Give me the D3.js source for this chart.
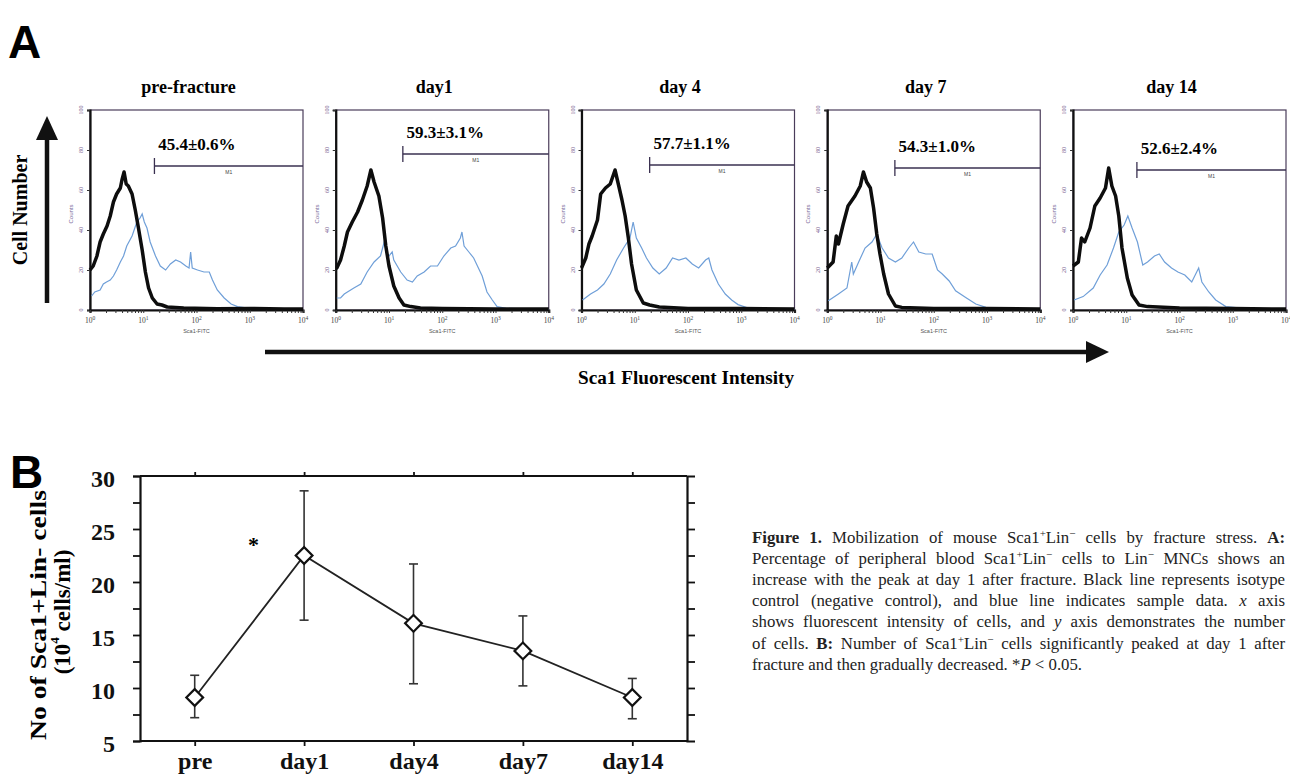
<!DOCTYPE html>
<html><head><meta charset="utf-8">
<script src="https://cdn.jsdelivr.net/npm/d3@7"></script>
<style>body{margin:0;background:#fff;} svg{display:block;}</style>
</head><body>
<svg id="c" width="1290" height="778"></svg>
<script>
// ---------------- Panel A data ----------------
const panelTitles = ["pre-fracture", "day1", "day 4", "day 7", "day 14"];
const percentLabels = ["45.4±0.6%", "59.3±3.1%", "57.7±1.1%", "54.3±1.0%", "52.6±2.4%"];
const gateStart = [1.21, 1.26, 1.28, 1.27, 1.2];   // log10 intensity
const gateLevel = [72, 78, 72.5, 71, 70];          // counts
const countTicks = [0, 20, 40, 60, 80, 100];
const decadeTicks = [0, 1, 2, 3, 4];

// [log10 intensity, counts]
const preControl = [[0,20],[0.06,22],[0.13,27],[0.19,34],[0.25,38],[0.32,42],[0.38,47],[0.44,54],[0.5,58],[0.57,61],[0.6,65],[0.64,69],[0.68,63],[0.72,62],[0.79,58],[0.85,50],[0.91,41],[0.98,30],[1.04,19],[1.1,11],[1.17,6],[1.26,3],[1.35,2.5],[1.45,1.5],[1.76,1],[2.39,0.6],[3.02,0.8],[3.65,0.5],[4,0.5]];
const preSample = [[0.03,7],[0.09,9],[0.19,10],[0.25,13],[0.31,14],[0.38,15],[0.44,17],[0.5,20],[0.57,24],[0.63,27],[0.69,32],[0.79,37],[0.88,44],[0.94,46],[0.98,48],[1.02,44],[1.07,41],[1.13,34],[1.23,27],[1.32,22],[1.42,20],[1.51,23],[1.61,25],[1.7,24],[1.8,22],[1.86,21],[1.89,29],[1.92,21],[2.02,20],[2.14,19],[2.24,19],[2.3,15],[2.39,10],[2.52,6],[2.65,3],[2.77,1.7],[2.96,1],[3.34,0.5],[4,0.3]];
const day1Control = [[0,21],[0.02,21],[0.09,25],[0.16,32],[0.22,39],[0.31,44],[0.41,49],[0.5,55],[0.59,62],[0.66,70],[0.72,64],[0.81,57],[0.88,46],[0.94,32],[1.0,22],[1.09,12],[1.19,6],[1.28,2.5],[1.41,1.7],[1.59,1],[2,0.8],[3,0.5],[4,0.5]];
const day1Sample = [[0.02,6],[0.09,6],[0.16,8],[0.34,11],[0.47,13],[0.59,19],[0.72,24],[0.84,27],[0.9,33],[0.93,36],[0.97,26],[1.06,29],[1.09,25],[1.22,19],[1.34,15],[1.44,14],[1.53,17],[1.66,19],[1.78,22],[1.91,22],[2.03,27],[2.16,31],[2.25,32],[2.34,36],[2.37,39],[2.41,32],[2.5,29],[2.59,26],[2.75,17],[2.84,9],[2.94,5],[3.03,1.7],[3.2,0.8],[4,0.3]];
const day4Control = [[0,21],[0.08,26],[0.14,33],[0.2,37],[0.3,45],[0.36,58],[0.45,61],[0.54,63],[0.63,70],[0.7,62],[0.76,55],[0.82,47],[0.88,36],[0.94,23],[1.03,10],[1.16,3.5],[1.28,2.5],[1.46,1.5],[2,0.8],[3,0.8],[4,0.5]];
const day4Sample = [[0.02,5],[0.17,8],[0.3,10],[0.42,13],[0.54,18],[0.66,25],[0.79,31],[0.91,36],[0.97,44],[1.03,36],[1.13,31],[1.22,26],[1.34,21],[1.46,18],[1.59,21],[1.71,26],[1.83,25],[1.96,26],[2.08,23],[2.2,21],[2.33,25],[2.39,26],[2.45,20],[2.57,13],[2.7,8],[2.82,5],[2.94,2.7],[3.13,1],[4,0.3]];
const day7Control = [[0,21],[0.11,24],[0.17,37],[0.21,33],[0.3,43],[0.39,52],[0.52,57],[0.62,62],[0.68,69],[0.74,64],[0.81,61],[0.87,51],[0.93,38],[0.99,28],[1.06,18],[1.15,8],[1.28,2],[1.4,1.3],[2,0.8],[3,0.7],[4,0.5]];
const day7Sample = [[0.02,4.6],[0.21,8],[0.37,11],[0.46,24],[0.49,18],[0.59,24],[0.71,31],[0.84,34],[0.93,38],[1.03,31],[1.15,26],[1.28,24],[1.4,26],[1.53,31],[1.62,34],[1.72,29],[1.85,28],[1.97,28],[2.07,20],[2.16,18],[2.29,14.5],[2.41,9.6],[2.6,6.3],[2.79,3],[2.98,1.3],[3.3,0.5],[4,0.3]];
const day14Control = [[0,22],[0.1,24],[0.16,36],[0.22,34],[0.32,41],[0.41,52],[0.51,56],[0.61,61],[0.67,71],[0.73,62],[0.8,57],[0.86,47],[0.92,31],[1.02,16],[1.11,7.5],[1.24,2.5],[1.4,1.7],[2,1],[3,0.7],[4,0.5]];
const day14Sample = [[0.02,5],[0.19,6.7],[0.38,11],[0.51,17.5],[0.64,22.5],[0.76,31],[0.86,39],[0.96,42.5],[1.03,47],[1.11,41],[1.21,34],[1.31,22.5],[1.4,24],[1.53,27],[1.62,28],[1.72,24],[1.85,21],[1.97,19],[2.1,17.5],[2.23,14],[2.36,21],[2.42,14],[2.55,9],[2.68,5],[2.87,1.7],[3.2,0.8],[4,0.3]];
const controls = [preControl, day1Control, day4Control, day7Control, day14Control];
const samples = [preSample, day1Sample, day4Sample, day7Sample, day14Sample];

// ---------------- Panel B data ----------------
const bCategories = ["pre", "day1", "day4", "day7", "day14"];
const bMeans = [9.1, 22.5, 16.1, 13.5, 9.1];
const bUpper = [11.2, 28.6, 21.7, 16.8, 10.9];
const bLower = [7.2, 16.4, 10.4, 10.2, 7.1];
const bYTicks = [5, 7.5, 10, 12.5, 15, 17.5, 20, 22.5, 25, 27.5, 30];
const bRightTicks = [7.5, 10, 12.5, 15, 17.5, 20, 22.5, 25, 27.5];

// ---------------- Caption ----------------
const captionLines = [
  [["Figure 1.","b"],[" Mobilization of mouse Sca1",""],["+","sup"],["Lin",""],["−","sup"],[" cells by fracture stress. ",""],["A:","b"]],
  [["Percentage of peripheral blood Sca1",""],["+","sup"],["Lin",""],["−","sup"],[" cells to Lin",""],["−","sup"],[" MNCs shows an",""]],
  [["increase with the peak at day 1 after fracture. Black line represents isotype",""]],
  [["control (negative control), and blue line indicates sample data. ",""],["x","i"],[" axis",""]],
  [["shows fluorescent intensity of cells, and ",""],["y","i"],[" axis demonstrates the number",""]],
  [["of cells. ",""],["B:","b"],[" Number of Sca1",""],["+","sup"],["Lin",""],["−","sup"],[" cells significantly peaked at day 1 after",""]],
  [["fracture and then gradually decreased. *",""],["P","i"],[" < 0.05.",""]]
];

const svg = d3.select("#c");
const SERIF = "'Liberation Serif', 'Times New Roman', serif";
const SANS = "'Liberation Sans', Arial, sans-serif";

// ===== Panel A =====
svg.append("text").attr("x", 8).attr("y", 58).attr("font-family", SANS)
  .attr("font-weight", "bold").attr("font-size", 46).text("A");

svg.append("text").attr("transform", "translate(27,210) rotate(-90)")
  .attr("text-anchor", "middle").attr("font-family", SERIF).attr("font-weight", "bold")
  .attr("font-size", 20).text("Cell Number");
svg.append("line").attr("x1", 47).attr("x2", 47).attr("y1", 303).attr("y2", 136)
  .attr("stroke", "#111").attr("stroke-width", 4.5);
svg.append("path").attr("d", "M47,116 L58,140 L36,140 Z").attr("fill", "#111");

svg.append("line").attr("x1", 265).attr("x2", 1088).attr("y1", 352).attr("y2", 352)
  .attr("stroke", "#111").attr("stroke-width", 4.5);
svg.append("path").attr("d", "M1109,352 L1086,341 L1086,363 Z").attr("fill", "#111");
svg.append("text").attr("x", 686).attr("y", 384).attr("text-anchor", "middle")
  .attr("font-family", SERIF).attr("font-weight", "bold").attr("font-size", 18)
  .attr("textLength", 216).attr("lengthAdjust", "spacingAndGlyphs")
  .text("Sca1 Fluorescent Intensity");

const PW = 213, PH = 200, PTOP = 110;
panelTitles.forEach((title, i) => {
  const left = 90 + i * 245.75;
  const x = d3.scaleLog().domain([1, 1e4]).range([left, left + PW]);
  const y = d3.scaleLinear().domain([0, 100]).range([PTOP + PH, PTOP]);
  const g = svg.append("g");

  g.append("text").attr("x", left + PW / 2 - 8).attr("y", 93).attr("text-anchor", "middle")
    .attr("font-family", SERIF).attr("font-weight", "bold").attr("font-size", 18).text(title);

  g.append("rect").attr("x", left).attr("y", PTOP).attr("width", PW).attr("height", PH)
    .attr("fill", "none").attr("stroke", "#4a3c5a").attr("stroke-width", 1.2);

  const ya = d3.axisLeft(y).tickValues(countTicks).tickSize(3).tickFormat("");
  const yg = g.append("g").attr("transform", `translate(${left},0)`).call(ya);
  yg.select(".domain").attr("stroke", "#111").attr("stroke-width", 2.2);
  yg.selectAll(".tick line").attr("stroke", "#333");
  countTicks.forEach(t => {
    g.append("text").attr("transform", `translate(${left - 7},${y(t)}) rotate(-90)`)
      .attr("text-anchor", "middle").attr("font-family", SERIF).attr("font-size", 6)
      .attr("fill", "#7a6090").text(t);
  });
  g.append("text").attr("transform", `translate(${left - 17},${y(48)}) rotate(-90)`)
    .attr("text-anchor", "middle").attr("font-family", SANS).attr("font-size", 6)
    .attr("fill", "#7a6a9a").text("Counts");

  const minor = [];
  for (let d = 0; d < 4; d++) for (let m = 1; m < 10; m++) minor.push(m * Math.pow(10, d));
  minor.push(1e4);
  const xa = d3.axisBottom(x).tickValues(minor).tickSize(3).tickFormat("");
  const xg = g.append("g").attr("transform", `translate(0,${PTOP + PH})`).call(xa);
  xg.select(".domain").attr("stroke", "#111").attr("stroke-width", 2.2);
  xg.selectAll(".tick line").attr("stroke", "#333");
  decadeTicks.forEach(dk => {
    const t = g.append("text").attr("x", x(Math.pow(10, dk))).attr("y", PTOP + PH + 13)
      .attr("text-anchor", "middle").attr("font-family", SERIF).attr("font-size", 7.5).attr("fill", "#444");
    t.append("tspan").text("10");
    t.append("tspan").attr("dy", -3).attr("font-size", 5.5).text(dk);
  });
  g.append("text").attr("x", x(100)).attr("y", PTOP + PH + 23).attr("text-anchor", "middle")
    .attr("font-family", SANS).attr("font-size", 5.5).attr("fill", "#555").text("Sca1-FITC");

  const gx = x(Math.pow(10, gateStart[i])), gy = y(gateLevel[i]);
  g.append("line").attr("x1", gx).attr("x2", left + PW).attr("y1", gy).attr("y2", gy)
    .attr("stroke", "#3a3050").attr("stroke-width", 1.3);
  g.append("line").attr("x1", gx).attr("x2", gx).attr("y1", gy - 8).attr("y2", gy + 8)
    .attr("stroke", "#3a3050").attr("stroke-width", 1.3);
  g.append("text").attr("x", (gx + left + PW) / 2).attr("y", gy + 8).attr("text-anchor", "middle")
    .attr("font-family", SANS).attr("font-size", 5).attr("fill", "#444").text("M1");
  g.append("text").attr("x", x(Math.pow(10, gateStart[i] + 0.07))).attr("y", y(gateLevel[i] + 8))
    .attr("font-family", SERIF).attr("font-weight", "bold").attr("font-size", 17).text(percentLabels[i]);

  const line = d3.line().x(d => x(Math.pow(10, d[0]))).y(d => y(d[1]));
  g.append("path").datum(samples[i]).attr("d", line).attr("fill", "none")
    .attr("stroke", "#6f9fd8").attr("stroke-width", 1.2);
  g.append("path").datum(controls[i]).attr("d", line).attr("fill", "none")
    .attr("stroke", "#0d0d0d").attr("stroke-width", 3.5).attr("stroke-linejoin", "round");
});

// ===== Panel B =====
svg.append("text").attr("x", 10).attr("y", 488).attr("font-family", SANS)
  .attr("font-weight", "bold").attr("font-size", 46).text("B");

const BL = 140, BR = 687;
const bx = d3.scalePoint().domain(bCategories).range([BL, BR]).padding(0.5);
const by = d3.scaleLinear().domain([5, 30]).range([741, 476]);

const la = svg.append("g").attr("transform", `translate(${BL},0)`)
  .call(d3.axisLeft(by).tickValues(bYTicks).tickSize(7).tickPadding(18)
    .tickFormat(d => d % 5 === 0 ? d : ""));
const ra = svg.append("g").attr("transform", `translate(${BR},0)`)
  .call(d3.axisRight(by).tickValues(bRightTicks).tickSize(8).tickFormat(""));
const ta = svg.append("g").attr("transform", `translate(0,${by(30)})`)
  .call(d3.axisTop(bx).tickSize(4).tickFormat(""));
const ba = svg.append("g").attr("transform", `translate(0,${by(5)})`)
  .call(d3.axisBottom(bx).tickSize(5).tickPadding(6));
[la, ra, ta, ba].forEach(a => {
  a.select(".domain").attr("stroke", "#111").attr("stroke-width", 2.2);
  a.selectAll(".tick line").attr("stroke", "#111").attr("stroke-width", 1.8);
  a.selectAll(".tick text").attr("font-family", SERIF).attr("font-weight", "bold").attr("fill", "#111");
});
la.selectAll(".tick text").attr("font-size", 24).attr("dy", "0.42em");
ba.selectAll(".tick text").attr("font-size", 24);
ta.select(".domain").attr("d", `M${BL},0H${BR}`);
ba.select(".domain").attr("d", `M${BL},0H${BR}`);

svg.append("text").attr("transform", `translate(38,615) rotate(-90)`)
  .attr("text-anchor", "middle").attr("dominant-baseline", "central")
  .attr("font-family", SERIF).attr("font-weight", "bold").attr("font-size", 24)
  .attr("textLength", 250).attr("lengthAdjust", "spacingAndGlyphs")
  .text("No of Sca1+Lin- cells");
const yl2 = svg.append("text").attr("transform", `translate(62,612) rotate(-90)`)
  .attr("text-anchor", "middle").attr("dominant-baseline", "central")
  .attr("font-family", SERIF).attr("font-weight", "bold").attr("font-size", 23);
yl2.append("tspan").text("(10");
yl2.append("tspan").attr("dy", -8).attr("font-size", 13).text("4");
yl2.append("tspan").attr("dy", 8).text(" cells/ml)");

const pts = bCategories.map((c, i) => ({c, m: bMeans[i], u: bUpper[i], l: bLower[i]}));
svg.append("path").datum(pts)
  .attr("d", d3.line().x(d => bx(d.c)).y(d => by(d.m)))
  .attr("fill", "none").attr("stroke", "#222").attr("stroke-width", 1.8);
const eb = svg.append("g").attr("stroke", "#333").attr("stroke-width", 1.6);
pts.forEach(d => {
  const cx = bx(d.c);
  eb.append("line").attr("x1", cx).attr("x2", cx).attr("y1", by(d.u)).attr("y2", by(d.l));
  eb.append("line").attr("x1", cx - 4.5).attr("x2", cx + 4.5).attr("y1", by(d.u)).attr("y2", by(d.u));
  eb.append("line").attr("x1", cx - 4.5).attr("x2", cx + 4.5).attr("y1", by(d.l)).attr("y2", by(d.l));
});
svg.append("g").selectAll("path").data(pts).join("path")
  .attr("d", d3.symbol(d3.symbolSquare, 140))
  .attr("transform", d => `translate(${bx(d.c)},${by(d.m)}) rotate(45)`)
  .attr("fill", "#fff").attr("stroke", "#111").attr("stroke-width", 2.2);
svg.append("text").attr("x", (bx("pre") + bx("day1")) / 2 + 4).attr("y", by(22.8))
  .attr("text-anchor", "middle").attr("font-family", SERIF).attr("font-weight", "bold")
  .attr("font-size", 22).text("*");

// ===== Caption =====
const CX = 752, CW = 533, CY0 = 543, CLH = 21.1;
captionLines.forEach((segs, li) => {
  const t = svg.append("text").attr("x", CX).attr("y", CY0 + li * CLH)
    .attr("font-family", SERIF).attr("font-size", 16.8).attr("fill", "#222")
    .attr("xml:space", "preserve");
  let pendingDown = 0;
  segs.forEach(([txt, st]) => {
    const sp = t.append("tspan").text(txt);
    if (st === "b") sp.attr("font-weight", "bold");
    if (st === "i") sp.attr("font-style", "italic");
    if (st === "sup") { sp.attr("dy", -6).attr("font-size", 11); pendingDown = 6; }
    else if (pendingDown) { sp.attr("dy", pendingDown); pendingDown = 0; }
  });
  if (li < captionLines.length - 1) {
    const w = t.node().getComputedTextLength();
    const spaces = (segs.map(s => s[0]).join("").match(/ /g) || []).length;
    if (spaces > 0) t.attr("word-spacing", (CW - w) / spaces);
  }
});
</script>
</body></html>
